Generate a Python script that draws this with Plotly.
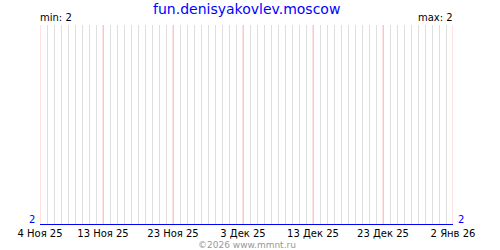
import plotly.graph_objects as go
import pandas as pd

dates = pd.date_range("2025-11-04", "2026-01-02", freq="D").strftime("%Y-%m-%d").tolist()
values = [2, 2, 2, 2, 2, 2, 2, 2, 2, 2,
          2, 2, 2, 2, 2, 2, 2, 2, 2, 2,
          2, 2, 2, 2, 2, 2, 2, 2, 2, 2,
          2, 2, 2, 2, 2, 2, 2, 2, 2, 2,
          2, 2, 2, 2, 2, 2, 2, 2, 2, 2,
          2, 2, 2, 2, 2, 2, 2, 2, 2, 2]
tick_dates = ["2025-11-04", "2025-11-13", "2025-11-23", "2025-12-03",
              "2025-12-13", "2025-12-23", "2026-01-02"]
tick_labels = ["4 Ноя 25", "13 Ноя 25", "23 Ноя 25", "3 Дек 25",
               "13 Дек 25", "23 Дек 25", "2 Янв 26"]
title_text = "fun.denisyakovlev.moscow"
min_val = min(values)
max_val = max(values)

font = "DejaVu Sans"

fig = go.Figure()
fig.add_trace(go.Scatter(x=dates, y=values, mode="lines",
                         line=dict(color="#0000ff", width=2),
                         cliponaxis=False, showlegend=False, hoverinfo="skip"))

shapes = [dict(type="line", xref="x", yref="paper", x0=d, x1=d, y0=0, y1=1,
               line=dict(color="#ffc4c4", width=1), layer="between")
          for d in tick_dates]

fig.update_layout(
    width=500, height=250,
    margin=dict(l=40, r=47, t=25, b=25),
    paper_bgcolor="white", plot_bgcolor="white",
    font=dict(family=font, size=10, color="black"),
    xaxis=dict(
        type="date", range=[dates[0], dates[-1]],
        tickvals=tick_dates, ticktext=tick_labels,
        showgrid=True, gridcolor="#ffc4c4", gridwidth=1,
        showline=False, zeroline=False, automargin=False,
        ticks="", ticklabelstandoff=1,
        tickfont=dict(family=font, size=10, color="black"),
        minor=dict(dtick=86400000, showgrid=True, gridcolor="#dedede", gridwidth=1, ticks=""),
    ),
    yaxis=dict(
        range=[min_val, min_val + 1], automargin=False,
        showgrid=False, zeroline=False, showline=False, showticklabels=False, ticks="",
    ),
    shapes=shapes,
    annotations=[
        dict(text=title_text, x=0.5, y=1, xref="paper", yref="paper",
             xanchor="center", yanchor="bottom", yshift=6, showarrow=False,
             font=dict(family=font, size=14, color="#0000ff")),
        dict(text=f"min: {min_val}", x=0, y=1, xref="paper", yref="paper",
             xanchor="left", yanchor="bottom", showarrow=False, xshift=-2,
             font=dict(family=font, size=10, color="black")),
        dict(text=f"max: {max_val}", x=1, y=1, xref="paper", yref="paper",
             xanchor="right", yanchor="bottom", showarrow=False, xshift=2,
             font=dict(family=font, size=10, color="black")),
        dict(text=str(min_val), x=0, y=0, xref="paper", yref="paper",
             xanchor="right", yanchor="bottom", showarrow=False, xshift=-3, yshift=-2,
             font=dict(family=font, size=10, color="#0000ff")),
        dict(text=str(max_val), x=1, y=0, xref="paper", yref="paper",
             xanchor="left", yanchor="bottom", showarrow=False, xshift=3, yshift=-2,
             font=dict(family=font, size=10, color="#0000ff")),
        dict(text="©2026 www.mmnt.ru", x=0.5, y=0, xref="paper", yref="paper",
             xanchor="center", yanchor="top", yshift=-13, showarrow=False,
             font=dict(family=font, size=9, color="#999999")),
    ],
)

fig.write_html("out.html")
